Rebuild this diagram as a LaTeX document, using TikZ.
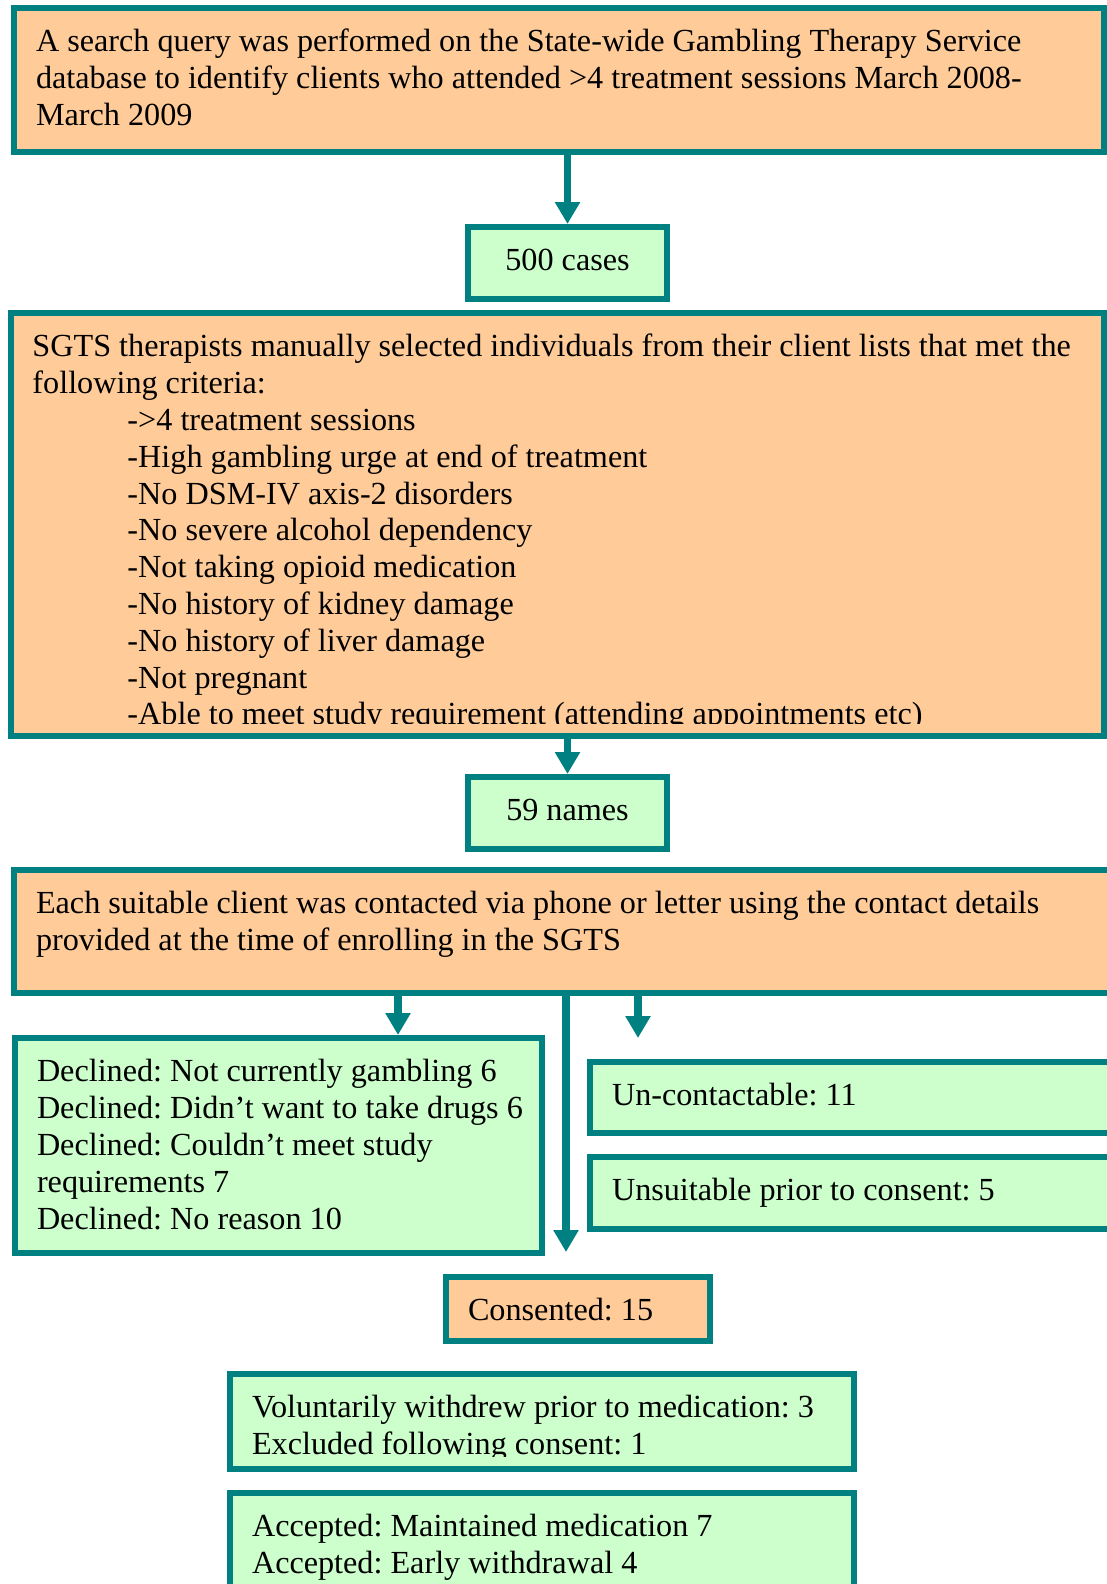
\documentclass[tikz,border=0pt]{standalone}
\usepackage{fontspec}
\setmainfont{Liberation Serif}
\usetikzlibrary{arrows.meta}
\usetikzlibrary{calc}
\frenchspacing
\definecolor{boxline}{RGB}{0,128,128}
\definecolor{peach}{RGB}{255,204,153}
\definecolor{mint}{RGB}{204,255,204}
\newcommand{\flowtext}[3]{\parbox[c][#2][t]{#1}{\raggedright\leftskip=11pt\vspace*{9.1pt}\strut #3\par}}
\newcommand{\midtext}[3]{\parbox[c][#2][t]{#1}{\centering\vspace*{9.1pt}\strut #3\par}}
\tikzset{
  flowbox/.style={draw=boxline, line width=3pt, inner sep=0pt, outer sep=0pt, anchor=north west,
    font=\fontsize{16.1pt}{18.4pt}\selectfont},
  peachbox/.style={flowbox, fill=peach},
  mintbox/.style={flowbox, fill=mint},
  flowarrow/.style={draw=boxline, line width=3.75pt, -{Triangle[length=11pt,width=12pt]}}
}

\begin{document}
\begin{tikzpicture}[x=0.5pt,y=-0.5pt]
            \useasboundingbox (0,0) rectangle (1107,1584);
            \clip (0,0) rectangle (1107,1584);
            
            \node[peachbox] (query) at (14,8) {\flowtext{545pt}{72pt}{A search query was performed on the State-wide Gambling Therapy Service\\
              database to identify clients who attended >4 treatment sessions March 2008-\\
              March 2009}};
            \node[mintbox] (cases) at (468,227) {\midtext{99.5pt}{36pt}{500 cases}};
            
            \node[peachbox] (select) at (10.5,313) {\flowtext{546.5pt}{211.5pt}{SGTS therapists manually selected individuals from their client lists that met the\\
              following criteria:\\ \leftskip=58.5pt
              ->4 treatment sessions\\
              -High gambling urge at end of treatment\\
              -No DSM-IV axis-2 disorders\\
              -No severe alcohol dependency\\
              -Not taking opioid medication\\
              -No history of kidney damage\\
              -No history of liver damage\\
              -Not pregnant\\
              -Able to meet study requirement (attending appointments etc)}};
            \fill[peach] ($(select.south west)+(3.5,-12)$) rectangle ($(select.south east)+(-3.5,-3.5)$);
            \node[mintbox] (names) at (468,777) {\midtext{99.5pt}{36pt}{59 names}};
            
            \node[peachbox] (contact) at (14,870) {\flowtext{560pt}{61.5pt}{Each suitable client was contacted via phone or letter using the contact details\\
              provided at the time of enrolling in the SGTS}};
            
            \node[mintbox] (declined) at (15,1038) {\flowtext{263.5pt}{107.5pt}{Declined: Not currently gambling 6\\
              Declined: Didn’t want to take drugs 6\\
              Declined: Couldn’t meet study\\
              requirements 7\\
              Declined: No reason 10}};
            \node[mintbox] (uncontact) at (590,1062) {\flowtext{270pt}{35.5pt}{Un-contactable: 11}};
            \node[mintbox] (unsuitable) at (590,1157) {\flowtext{270pt}{36pt}{Unsuitable prior to consent: 5}};
            
            \node[peachbox] (consented) at (446,1277) {\flowtext{132pt}{32pt}{Consented: 15}};
            \node[mintbox] (withdrew) at (230,1374) {\flowtext{312pt}{47.5pt}{Voluntarily withdrew prior to medication: 3\\
              Excluded following consent: 1}};
            \fill[mint] ($(withdrew.south west)+(3.5,-12)$) rectangle ($(withdrew.south east)+(-3.5,-3.5)$);
            \node[mintbox] (accepted) at (230,1493) {\flowtext{312pt}{60pt}{Accepted: Maintained medication 7\\
              Accepted: Early withdrawal 4}};
            
            \coordinate (declinedtop) at ($(declined.north west)+(383,0)$);
            \coordinate (consentend) at (566,1252);
            \coordinate (uncontactend) at (638,1038);
            
            \draw[flowarrow, shorten >=1.5pt] (cases.north |- query.south) -- (cases.north);
            \draw[flowarrow, shorten >=1.5pt] (names.north |- select.south) -- (names.north);
            \draw[flowarrow, shorten >=1.5pt] (declinedtop |- contact.south) -- (declinedtop);
            \draw[flowarrow] (consentend |- contact.south) -- (consentend);
            \draw[flowarrow] (uncontactend |- contact.south) -- (uncontactend);
        \end{tikzpicture}
\end{document}
